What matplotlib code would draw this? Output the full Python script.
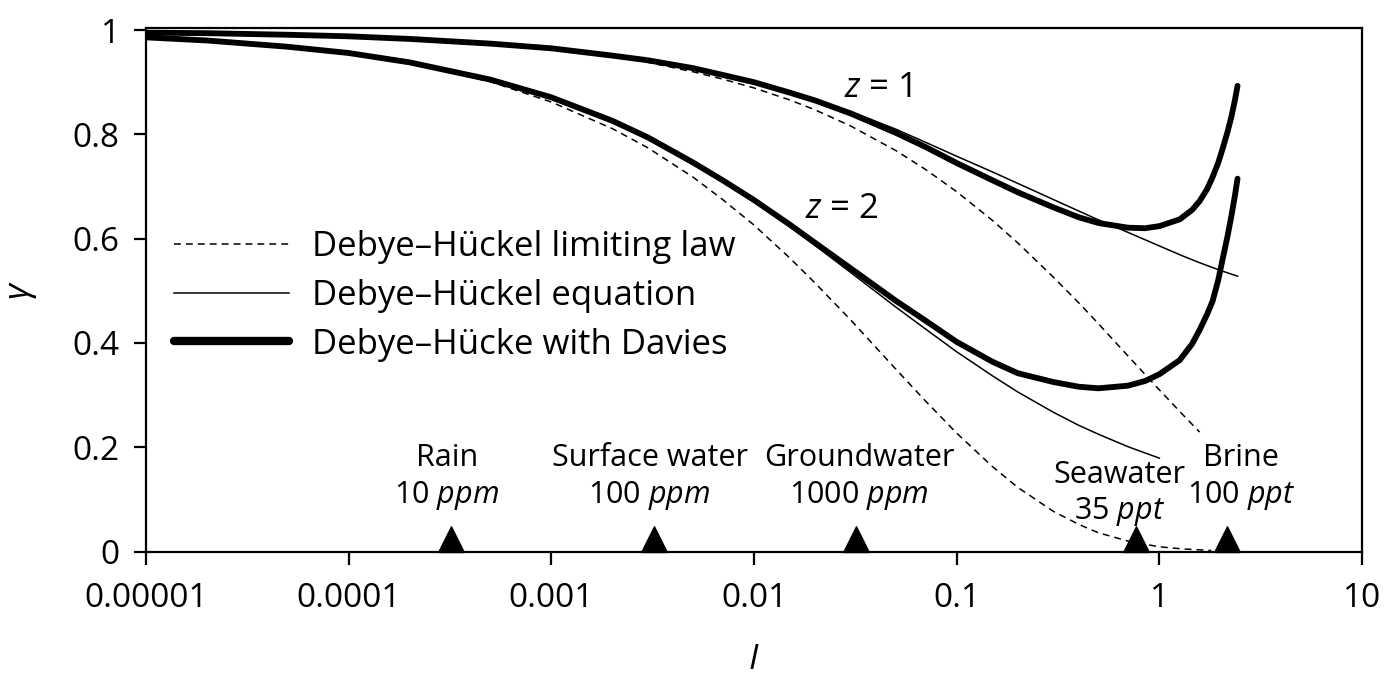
import matplotlib
matplotlib.use("Agg")
import matplotlib.pyplot as plt
from matplotlib.lines import Line2D

FONT = "Open Sans"
plt.rcParams['font.family'] = [FONT, 'DejaVu Sans']
plt.rcParams['mathtext.fontset'] = 'custom'
plt.rcParams['mathtext.it'] = FONT + ':italic'
plt.rcParams['mathtext.rm'] = FONT

# ---------------- data ----------------
I_base = [1e-5, 2e-5, 5e-5, 1e-4, 2e-4, 5e-4, 1e-3, 2e-3, 3e-3, 5e-3, 7e-3,
          0.01, 0.015, 0.02, 0.03, 0.05, 0.07, 0.1, 0.15, 0.2, 0.3, 0.4, 0.5,
          0.7, 1.0]

# Debye-Hueckel limiting law
I_lim_z1 = I_base + [1.3, 1.58]
g_lim_z1 = [0.996, 0.995, 0.992, 0.988, 0.984, 0.974, 0.964, 0.949, 0.938,
            0.920, 0.906, 0.889, 0.866, 0.847, 0.816, 0.769, 0.733, 0.690,
            0.635, 0.592, 0.526, 0.477, 0.437, 0.375, 0.310, 0.263, 0.229]
I_lim_z2 = I_base + [1.3, 1.8]
g_lim_z2 = [0.985, 0.979, 0.967, 0.954, 0.936, 0.901, 0.862, 0.811, 0.774,
            0.718, 0.675, 0.626, 0.563, 0.515, 0.444, 0.350, 0.289, 0.227,
            0.163, 0.123, 0.077, 0.052, 0.036, 0.020, 0.009, 0.005, 0.002]

# Debye-Hueckel equation
I_eq_z1 = I_base + [1.3, 1.6, 2.0, 2.43]
g_eq_z1 = [0.996, 0.995, 0.992, 0.988, 0.984, 0.975, 0.965, 0.951, 0.942,
           0.927, 0.915, 0.901, 0.882, 0.867, 0.844, 0.810, 0.785, 0.758,
           0.728, 0.706, 0.675, 0.653, 0.636, 0.612, 0.586, 0.567, 0.553,
           0.539, 0.528]
I_eq_z2 = I_base
g_eq_z2 = [0.985, 0.979, 0.968, 0.955, 0.937, 0.904, 0.869, 0.823, 0.791,
           0.744, 0.710, 0.671, 0.623, 0.587, 0.535, 0.469, 0.427, 0.383,
           0.337, 0.306, 0.267, 0.242, 0.225, 0.201, 0.179]

# Debye-Hueckel with Davies
I_dav = [1e-5, 2e-5, 5e-5, 1e-4, 2e-4, 5e-4, 1e-3, 2e-3, 3e-3, 5e-3, 7e-3,
         0.01, 0.015, 0.02, 0.03, 0.05, 0.07, 0.1, 0.15, 0.2, 0.3, 0.4, 0.5,
         0.7, 0.85, 1.0, 1.26, 1.45, 1.58, 1.72, 1.83, 1.95, 2.05, 2.17, 2.27,
         2.36, 2.43]
g_dav_z1 = [0.995, 0.994, 0.991, 0.988, 0.983, 0.974, 0.965, 0.951, 0.942,
            0.927, 0.914, 0.900, 0.880, 0.865, 0.840, 0.803, 0.776, 0.745,
            0.712, 0.689, 0.660, 0.641, 0.630, 0.621, 0.620, 0.624, 0.637,
            0.655, 0.672, 0.695, 0.718, 0.745, 0.772, 0.805, 0.835, 0.866,
            0.893]
g_dav_z2 = [0.986, 0.980, 0.968, 0.956, 0.938, 0.905, 0.871, 0.826, 0.794,
            0.746, 0.712, 0.674, 0.627, 0.592, 0.543, 0.481, 0.443, 0.402,
            0.364, 0.342, 0.325, 0.316, 0.313, 0.318, 0.327, 0.340, 0.367,
            0.398, 0.425, 0.455, 0.480, 0.520, 0.560, 0.605, 0.645, 0.683,
            0.715]

# water types
water_I = [3.2e-4, 3.2e-3, 3.2e-2, 0.77, 2.16]
water_names = ["Rain", "Surface water", "Groundwater", "Seawater", "Brine"]
water_amounts = ["10 $ppm$", "100 $ppm$", "1000 $ppm$", "35 $ppt$", "100 $ppt$"]

x_ticks = [1e-5, 1e-4, 1e-3, 1e-2, 1e-1, 1, 10]
x_ticklabels = ["0.00001", "0.0001", "0.001", "0.01", "0.1", "1", "10"]
y_ticks = [0, 0.2, 0.4, 0.6, 0.8, 1.0]
y_ticklabels = ["0", "0.2", "0.4", "0.6", "0.8", "1"]

legend_labels = ["Debye\u2013H\u00fcckel limiting law",
                 "Debye\u2013H\u00fcckel equation",
                 "Debye\u2013H\u00fccke with Davies"]

# ---------------- figure ----------------
fig = plt.figure(figsize=(13.89, 6.84), dpi=100)
ax = fig.add_axes([0.1051, 0.1937, 0.8755, 0.7654])
ax.set_xscale('log')
ax.set_xlim(1e-5, 10)
ax.set_ylim(0, 1.004)

thin = 1.1
thick = 4.2
dash = (4.5, 3.3)

ax.plot(I_lim_z1, g_lim_z1, color='k', lw=thin, ls=(0, dash))
ax.plot(I_lim_z2, g_lim_z2, color='k', lw=thin, ls=(0, dash))
ax.plot(I_eq_z1, g_eq_z1, color='k', lw=thin)
ax.plot(I_eq_z2, g_eq_z2, color='k', lw=thin)
ax.plot(I_dav, g_dav_z1, color='k', lw=thick, solid_capstyle='round')
ax.plot(I_dav, g_dav_z2, color='k', lw=thick, solid_capstyle='round')

# markers sitting on the axis
tri = [(-1, 0), (1, 0), (0, 2), (-1, 0)]
ax.plot(water_I, [0] * len(water_I), ls='none', marker=tri, markersize=37,
        color='k', clip_on=False, zorder=5)

name_off = [(-3, 0), (-3, 0), (2, 0), (-12, -12), (10, 0)]
for xi, nm, am, (dx, dy) in zip(water_I, water_names, water_amounts, name_off):
    ax.annotate(nm, (xi, 0.179), xytext=(dx, dy), textcoords='offset points',
                ha='center', va='center', fontsize=22)
    ax.annotate(am, (xi, 0.108), xytext=(dx, dy), textcoords='offset points',
                ha='center', va='center', fontsize=22)

ax.text(0.041, 0.885, "$z$ = 1", fontsize=25, ha='center', va='center',
        transform=ax.get_xaxis_transform())
ax.text(0.027, 0.655, "$z$ = 2", fontsize=25, ha='center', va='center',
        transform=ax.get_xaxis_transform())

handles = [Line2D([], [], color='k', lw=thin, ls=(0, dash)),
           Line2D([], [], color='k', lw=thin),
           Line2D([], [], color='k', lw=6, solid_capstyle='round')]
ax.legend(handles, legend_labels, loc='upper left',
          bbox_to_anchor=(0.012, 0.64), frameon=False, fontsize=25,
          handlelength=3.3, handletextpad=0.65, labelspacing=0.42,
          borderaxespad=0)

ax.set_xticks(x_ticks)
ax.set_xticklabels(x_ticklabels)
ax.xaxis.set_minor_locator(matplotlib.ticker.NullLocator())
ax.set_yticks(y_ticks)
ax.set_yticklabels(y_ticklabels)
ax.tick_params(axis='both', direction='out', length=9, width=1.6,
               labelsize=24)
ax.tick_params(axis='x', pad=13)
ax.tick_params(axis='y', pad=10)
for s in ax.spines.values():
    s.set_linewidth(1.6)

ax.set_ylabel("$\\gamma$", fontsize=25, labelpad=24)
ax.set_xlabel("$I$", fontsize=25, labelpad=20)

fig.savefig("out.png", dpi=100)
